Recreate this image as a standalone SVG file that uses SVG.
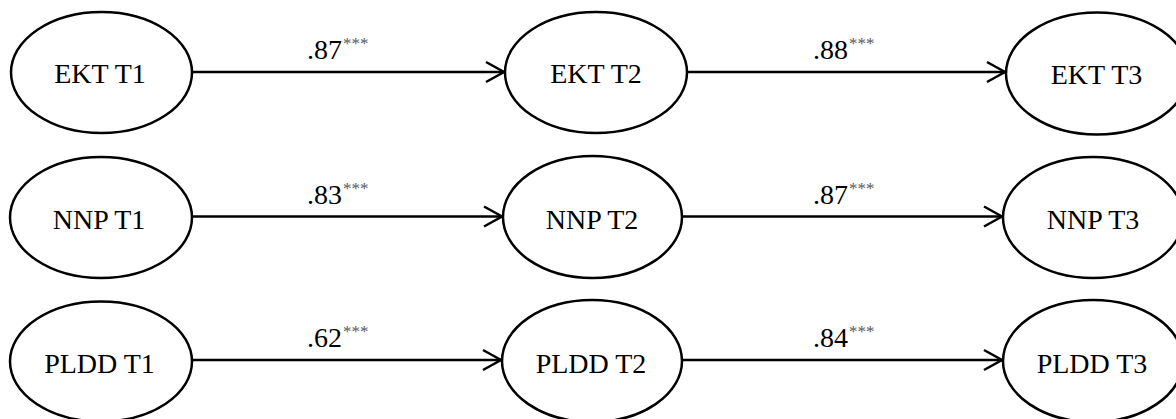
<svg xmlns="http://www.w3.org/2000/svg" width="1176" height="419" viewBox="0 0 1176 419">
  <style>
    .node ellipse { fill: #ffffff; stroke: #000000; stroke-width: 2.5; }
    .node text { font-family: "Liberation Serif", "Times New Roman", serif; font-size: 28px; fill: #000000; text-anchor: middle; }
    .conn line { stroke: #000000; stroke-width: 2.5; fill: none; }
    .lbl { font-family: "Liberation Serif", "Times New Roman", serif; font-size: 28px; fill: #000000; }
    .sig { font-family: "Liberation Serif", "Times New Roman", serif; font-size: 17px; fill: #595959; }
  </style>
  <defs>
    <marker id="arrow" markerUnits="userSpaceOnUse" markerWidth="24" markerHeight="24" refX="18" refY="10" orient="auto" overflow="visible">
      <path d="M0,0 L18,10 L0,20" fill="none" stroke="#000000" stroke-width="2.5" stroke-linejoin="miter"/>
    </marker>
  </defs>
  <rect width="1176" height="419" fill="#ffffff"/>

  <g id="connectors" class="conn">
    <line x1="192" y1="72" x2="504" y2="72" marker-end="url(#arrow)"/>
    <line x1="687" y1="72" x2="1005" y2="72" marker-end="url(#arrow)"/>
    <line x1="192" y1="216.5" x2="502" y2="216.5" marker-end="url(#arrow)"/>
    <line x1="682" y1="216.5" x2="1002" y2="216.5" marker-end="url(#arrow)"/>
    <line x1="192" y1="360" x2="501" y2="360" marker-end="url(#arrow)"/>
    <line x1="682" y1="360" x2="1002" y2="360" marker-end="url(#arrow)"/>
  </g>

  <g id="labels">
    <text class="lbl" x="307" y="59">.87</text><text class="sig" x="343" y="49">***</text>
    <text class="lbl" x="813" y="59">.88</text><text class="sig" x="849" y="49">***</text>
    <text class="lbl" x="307" y="204">.83</text><text class="sig" x="343" y="194">***</text>
    <text class="lbl" x="813" y="204">.87</text><text class="sig" x="849" y="194">***</text>
    <text class="lbl" x="307" y="347">.62</text><text class="sig" x="343" y="337">***</text>
    <text class="lbl" x="813" y="347">.84</text><text class="sig" x="849" y="337">***</text>
  </g>

  <g id="ekt_t1" class="node"><ellipse cx="101.5" cy="72.5" rx="90.5" ry="60.5"/><text x="100" y="83">EKT T1</text></g>
  <g id="ekt_t2" class="node"><ellipse cx="596" cy="72.5" rx="91" ry="60.5"/><text x="596" y="83">EKT T2</text></g>
  <g id="ekt_t3" class="node"><ellipse cx="1097" cy="73.5" rx="91" ry="61"/><text x="1096.5" y="84">EKT T3</text></g>

  <g id="nnp_t1" class="node"><ellipse cx="101" cy="217.5" rx="91" ry="60.5"/><text x="99" y="229">NNP T1</text></g>
  <g id="nnp_t2" class="node"><ellipse cx="592.5" cy="217" rx="89.5" ry="61"/><text x="592" y="229">NNP T2</text></g>
  <g id="nnp_t3" class="node"><ellipse cx="1093" cy="217.5" rx="90" ry="60.5"/><text x="1093" y="229">NNP T3</text></g>

  <g id="pldd_t1" class="node"><ellipse cx="101" cy="361.5" rx="91" ry="60"/><text x="99.5" y="373">PLDD T1</text></g>
  <g id="pldd_t2" class="node"><ellipse cx="592" cy="361" rx="90" ry="61"/><text x="591" y="373">PLDD T2</text></g>
  <g id="pldd_t3" class="node"><ellipse cx="1093" cy="361" rx="90" ry="61"/><text x="1092" y="373">PLDD T3</text></g>
</svg>
